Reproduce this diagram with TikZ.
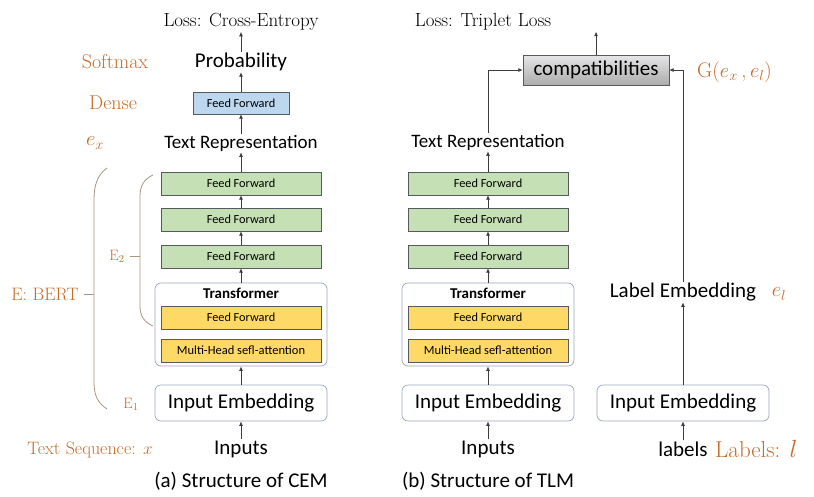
\documentclass[tikz,border=0pt]{standalone}
\usepackage{fontspec}
\setsansfont{Carlito}
\usetikzlibrary{arrows.meta}
\definecolor{lblorange}{RGB}{197,108,42}
\definecolor{bracecol}{RGB}{170,150,130}
\definecolor{ffgreen}{RGB}{197,224,180}
\definecolor{ffblue}{RGB}{189,215,238}
\definecolor{ffyellow}{RGB}{255,217,102}
\definecolor{boxline}{RGB}{85,90,95}
\definecolor{tline}{RGB}{150,165,190}
\definecolor{arrcol}{RGB}{60,60,60}
\def\fsz#1{\fontsize{#1}{#1}\selectfont}
\tikzset{
  ffbox/.style={draw=boxline, fill=ffgreen, minimum width=160pt, minimum height=23pt, inner sep=0pt, font=\sffamily\fsz{12.3}},
  densebox/.style={ffbox, fill=ffblue, minimum width=96pt, minimum height=22pt},
  attbox/.style={ffbox, fill=ffyellow},
  roundbox/.style={draw=tline, rounded corners=6pt, minimum width=172pt, inner sep=0pt, line width=0.7pt},
  plaintxt/.style={font=\sffamily\fsz{21}, inner sep=1pt},
  losstxt/.style={font=\fsz{19}, inner sep=1pt},
  orangetxt/.style={text=lblorange, font=\fsz{19}, inner sep=1pt},
  arr/.style={draw=arrcol, line width=0.8pt, -{Latex[length=4.5pt,width=4pt]}},
  bracepath/.style={draw=bracecol, line width=0.8pt}
}
\begin{document}
\begin{tikzpicture}[x=1pt,y=-1pt]
  \useasboundingbox (0,0) rectangle (814,496);

  %%%%% (a) CEM %%%%%
  \node[losstxt] (lossA) at (241,22) {Loss: Cross-Entropy};
  \node[plaintxt] (probA) at (241,62) {Probability};
  \node[densebox] (denseA) at (241,103) {Feed Forward};
  \node[plaintxt, font=\sffamily\fsz{19}] (reprA) at (241,143) {Text Representation};
  \node[ffbox] (ffA3) at (241,183.5) {Feed Forward};
  \node[ffbox] (ffA2) at (241,219.5) {Feed Forward};
  \node[ffbox] (ffA1) at (241,256.5) {Feed Forward};
  \node[roundbox, minimum height=83pt] (trA) at (241,324.5) {};
  \node[font=\sffamily\bfseries\fsz{15}] (trlblA) at (241,293) {Transformer};
  \node[attbox] (yffA) at (241,317.5) {Feed Forward};
  \node[attbox, font=\sffamily\fsz{12.5}] (mhaA) at (241,350.5) {Multi-Head sefl-attention};
  \node[roundbox, minimum height=36pt, font=\sffamily\fsz{21}] (embA) at (241,403) {Input Embedding};
  \node[plaintxt] (inA) at (241,449) {Inputs};
  \node[plaintxt] (capA) at (241,481) {(a) Structure of CEM};

  \draw[arr] (inA) -- (embA);
  \draw[arr] (embA) -- (trA);
  \draw[arr] (trA) -- (ffA1);
  \draw[arr] (ffA1) -- (ffA2);
  \draw[arr] (ffA2) -- (ffA3);
  \draw[arr] (ffA3) -- (reprA);
  \draw[arr] (reprA) -- (denseA);
  \draw[arr] (denseA) -- (probA);
  \draw[arr] (probA) -- (lossA);

  % orange labels
  \node[orangetxt, font=\fsz{20}] (softmaxL) at (115,62) {Softmax};
  \node[orangetxt, font=\fsz{20}] (denseL) at (113,103) {Dense};
  \node[orangetxt, font=\fsz{21}] (exL) at (95,143) {$e_x$};
  \node[orangetxt, font=\fsz{18}] (bertL) at (45,294) {E: BERT};
  \node[orangetxt, font=\fsz{15}] (etwoL) at (117,256) {E\textsubscript{2}};
  \node[orangetxt, font=\fsz{15}] (eoneL) at (131,404) {E\textsubscript{1}};
  \node[orangetxt, font=\fsz{18}] (seqL) at (90,450) {Text Sequence: $x$};

  % braces
  \draw[bracepath] (107,168) .. controls (97,175) and (94,186) .. (94,200) -- (94,382) .. controls (94,396) and (98,403) .. (107,409);
  \draw[bracepath] (bertL.east) ++(4,0) coordinate (bertT) -- (94,294);
  \draw[bracepath] (153,175) .. controls (144,179) and (140,186) .. (140,196) -- (140,306) .. controls (140,316) and (144,322) .. (153,326);
  \draw[bracepath] (etwoL.east) ++(4,0) coordinate (etwoT) -- (140,256);

  %%%%% (b) TLM %%%%%
  \node[losstxt] (lossB) at (483,22) {Loss: Triplet Loss};
  \node[draw=boxline, top color=gray!20, bottom color=gray!65, minimum width=146pt, minimum height=30pt, inner sep=0pt, font=\sffamily\fsz{21}] (comp) at (596,70) {compatibilities};
  \node[plaintxt, font=\sffamily\fsz{19}] (reprB) at (488,142) {Text Representation};
  \node[ffbox] (ffB3) at (488,183.5) {Feed Forward};
  \node[ffbox] (ffB2) at (488,219.5) {Feed Forward};
  \node[ffbox] (ffB1) at (488,256.5) {Feed Forward};
  \node[roundbox, minimum height=83pt] (trB) at (488,324.5) {};
  \node[font=\sffamily\bfseries\fsz{15}] (trlblB) at (488,293) {Transformer};
  \node[attbox] (yffB) at (488,317.5) {Feed Forward};
  \node[attbox, font=\sffamily\fsz{12.5}] (mhaB) at (488,350.5) {Multi-Head sefl-attention};
  \node[roundbox, minimum height=36pt, font=\sffamily\fsz{21}] (embB) at (488,403) {Input Embedding};
  \node[plaintxt] (inB) at (488,449) {Inputs};
  \node[plaintxt] (capB) at (488,481) {(b) Structure of TLM};

  \node[roundbox, minimum height=36pt, font=\sffamily\fsz{21}] (embC) at (683,403) {Input Embedding};
  \node[plaintxt] (lblsC) at (683,449) {labels};
  \node[plaintxt] (lblembC) at (683,292) {Label Embedding};

  \draw[arr] (inB) -- (embB);
  \draw[arr] (embB) -- (trB);
  \draw[arr] (trB) -- (ffB1);
  \draw[arr] (ffB1) -- (ffB2);
  \draw[arr] (ffB2) -- (ffB3);
  \draw[arr] (ffB3) -- (reprB);
  \draw[arr] (reprB.north) |- (comp.west);
  \draw[arr] (comp) -- (lossB.south -| comp);
  \draw[arr] (lblsC) -- (embC);
  \draw[arr] (embC) -- (lblembC);
  \draw[arr] (lblembC.north) |- (comp.east);

  \node[orangetxt, font=\fsz{21}, anchor=west] (gL) at (696,72) {G($e_x$\,,\,$e_l$)};
  \node[orangetxt, font=\fsz{22}] (elL) at (779,294) {$e_l$};
  \node[orangetxt, font=\fsz{23}, anchor=west] (labelsL) at (714,449) {Labels: $l$};
\end{tikzpicture}
\end{document}
